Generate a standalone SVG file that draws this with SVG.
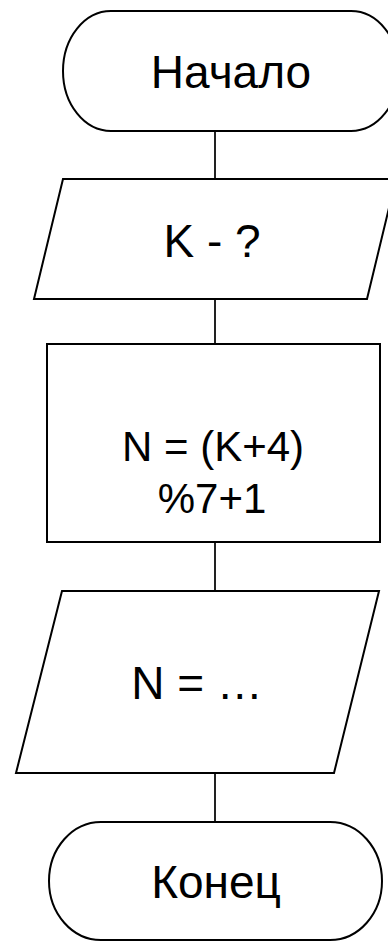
<svg xmlns="http://www.w3.org/2000/svg" width="388" height="941" viewBox="0 0 388 941">
<style>
.s{fill:#fff;stroke:#000;stroke-width:2}
.c{stroke:#222;stroke-width:2;fill:none}
.t{font-family:"Liberation Sans",Arial,sans-serif;font-size:46px;fill:#000;text-anchor:middle}
.m{font-size:42px}
</style>
<rect width="388" height="941" fill="#fff"/>
<g id="connectors">
<line class="c" x1="215" y1="131" x2="215" y2="179"/>
<line class="c" x1="215" y1="299" x2="215" y2="344"/>
<line class="c" x1="215" y1="542" x2="215" y2="591"/>
<line class="c" x1="215" y1="773" x2="215" y2="822"/>
</g>
<g id="start">
<rect class="s" x="63" y="11" width="336" height="120" rx="48" ry="60"/>
<text class="t" x="231" y="88">Начало</text>
</g>
<g id="input">
<polygon class="s" points="63,179 396,179 367,299 34,299"/>
<text class="t" x="212" y="257">K - ?</text>
</g>
<g id="process">
<rect class="s" x="47" y="344" width="333" height="198"/>
<text class="t m" x="213" y="461">N = (K+4)</text>
<text class="t m" x="212" y="513">%7+1</text>
</g>
<g id="output">
<polygon class="s" points="62,591 379,591 334,773 16,773"/>
<text class="t" x="197" y="699">N = …</text>
</g>
<g id="end">
<rect class="s" x="49" y="822" width="333" height="118" rx="52" ry="59"/>
<text class="t" x="216" y="898">Конец</text>
</g>
</svg>
